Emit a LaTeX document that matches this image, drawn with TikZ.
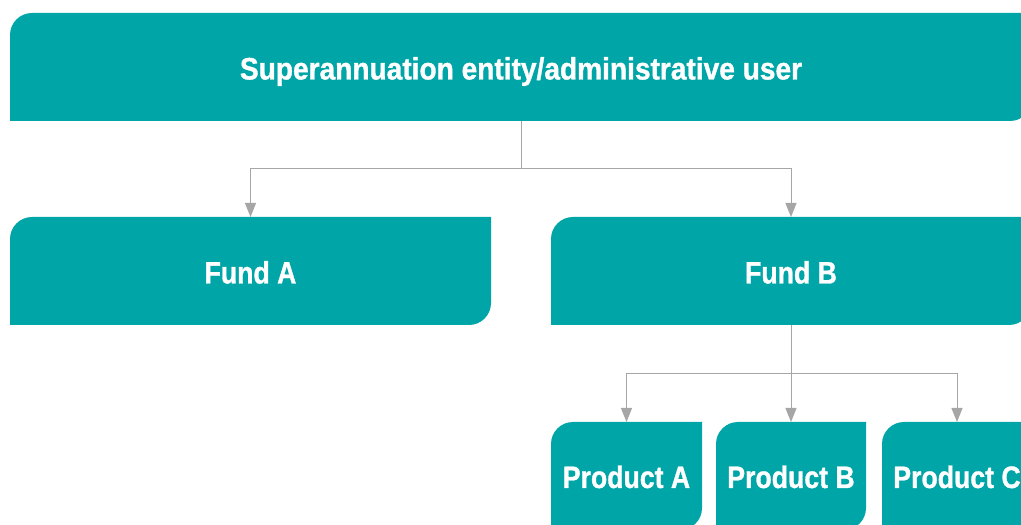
\documentclass[tikz,border=0pt]{standalone}
\usepackage{fontspec}
\setmainfont{Liberation Sans}[FakeStretch=0.86,BoldFeatures={FakeBold=1}]
\usetikzlibrary{arrows.meta}
\definecolor{tealbox}{HTML}{00A5A7}
\definecolor{connc}{HTML}{A6A6A6}
\tikzset{
  box/.style={minimum height=108pt, inner sep=0pt, outer sep=0pt},
  lbl/.style={anchor=base, inner sep=0pt, text=white,
    font=\fontsize{31}{33}\selectfont\bfseries},
  conn/.style={draw=connc, line width=1pt},
  arr/.style={conn, -{Triangle[length=14pt,width=11pt]}},
}
\newcommand\tealshape[1]{%
  \fill[tealbox] (#1.south west) -- ([yshift=-22pt]#1.north west)
    arc[start angle=180,end angle=90,radius=22pt] -- (#1.north east)
    -- ([yshift=22pt]#1.south east)
    arc[start angle=0,end angle=-90,radius=22pt] -- cycle;}
\begin{document}
\begin{tikzpicture}[x=1pt,y=1pt]
\useasboundingbox (0,0) rectangle (1021,525);
\clip (0,0) rectangle (1021,525);
\node[box, minimum width=1022pt] (top) at (521,458) {};
\node[box, minimum width=481pt] (fundA) at (250.5,254) {};
\node[box, minimum width=480pt] (fundB) at (791,254) {};
\node[box, minimum width=151pt] (prodA) at (626.5,49) {};
\node[box, minimum width=150pt] (prodB) at (791,49) {};
\node[box, minimum width=150pt] (prodC) at (957,49) {};
\foreach \n in {top,fundA,fundB,prodA,prodB,prodC} {\tealshape{\n}}
\node[lbl, xscale=1.054] at ([yshift=-12.5pt]top.center) {Superannuation entity/administrative user};
\node[lbl] at ([yshift=-12.5pt]fundA.center) {Fund A};
\node[lbl] at ([yshift=-12.5pt]fundB.center) {Fund B};
\node[lbl] at ([yshift=-12pt]prodA.center) {Product A};
\node[lbl] at ([yshift=-12pt]prodB.center) {Product B};
\node[lbl] at ([yshift=-12pt]prodC.center) {Product C};
\coordinate (j1) at (521,356);
\coordinate (j2) at (791,151);
\draw[conn] (top.south) -- (j1);
\draw[arr] (j1) -| (fundA.north);
\draw[arr] (j1) -| (fundB.north);
\draw[conn] (fundB.south) -- (j2);
\draw[arr] (j2) -| (prodA.north);
\draw[arr] (j2) -- (prodB.north);
\draw[arr] (j2) -| (prodC.north);
\end{tikzpicture}
\end{document}
